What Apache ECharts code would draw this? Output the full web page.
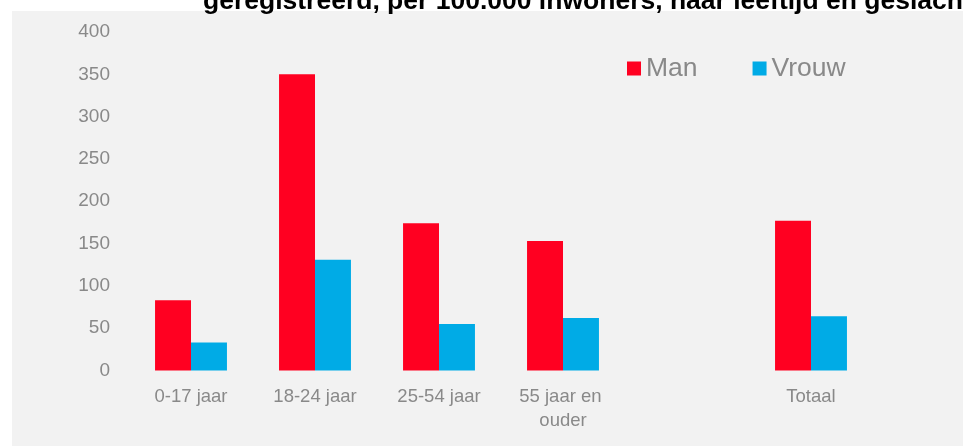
<!DOCTYPE html>
<html>
<head>
<meta charset="utf-8">
<script src="https://cdn.jsdelivr.net/npm/echarts@6/dist/echarts.min.js"></script>
<style>
  html, body { margin: 0; padding: 0; background: #fff; }
  #chart { width: 963px; height: 447px; }
</style>
</head>
<body>
<div id="chart"></div>
<script>
// leeftijdsgroepen, lege kolom tussen 55+ en Totaal
const categories = ['0-17 jaar', '18-24 jaar', '25-54 jaar', '55 jaar en ouder', '', 'Totaal']
const man = [83, 350, 174, 153, null, 177]
const vrouw = [33, 131, 55, 62, null, 64]
const yTicks = [0, 400, 50]  // min, max, interval

const titleText = 'geregistreerd, per 100.000 inwoners, naar leeftijd en geslacht'

const chart = echarts.init(document.getElementById('chart'))

chart.setOption({
  backgroundColor: '#fff',
  animation: false,
  textStyle: { fontFamily: 'Liberation Sans, Arial, sans-serif' },
  graphic: [{
    type: 'rect',
    z: -10,
    shape: { x: 12, y: 11, width: 951, height: 435 },
    style: { fill: '#f2f2f2' }
  }],
  title: {
    text: titleText,
    left: 203,
    top: -12,
    padding: 0,
    textStyle: { fontSize: 26.5, fontWeight: 'bold', color: '#000', fontFamily: 'Liberation Sans, Arial, sans-serif' }
  },
  legend: {
    left: 627,
    top: 55,
    padding: 0,
    itemWidth: 14,
    itemHeight: 14,
    itemGap: 55,
    icon: 'rect',
    textStyle: { fontSize: 26.5, color: '#898989' },
    data: ['Man', 'Vrouw']
  },
  grid: { left: 129, right: 90, top: 32, bottom: 76.5 },
  xAxis: {
    type: 'category',
    data: categories,
    axisLine: { show: false },
    axisTick: { show: false },
    axisLabel: {
      fontSize: 18.5,
      color: '#898989',
      margin: 14,
      lineHeight: 24,
      interval: 0,
      width: 110,
      overflow: 'break'
    }
  },
  yAxis: {
    type: 'value',
    min: yTicks[0],
    max: yTicks[1],
    interval: yTicks[2],
    splitLine: { show: false },
    axisLine: { show: false },
    axisTick: { show: false },
    axisLabel: { fontSize: 19, color: '#898989', margin: 19 }
  },
  series: [
    {
      name: 'Man',
      type: 'bar',
      data: man,
      barGap: '0%',
      barCategoryGap: '42%',
      itemStyle: { color: '#ff0021' }
    },
    {
      name: 'Vrouw',
      type: 'bar',
      data: vrouw,
      itemStyle: { color: '#00abe6' }
    }
  ]
})
</script>
</body>
</html>
